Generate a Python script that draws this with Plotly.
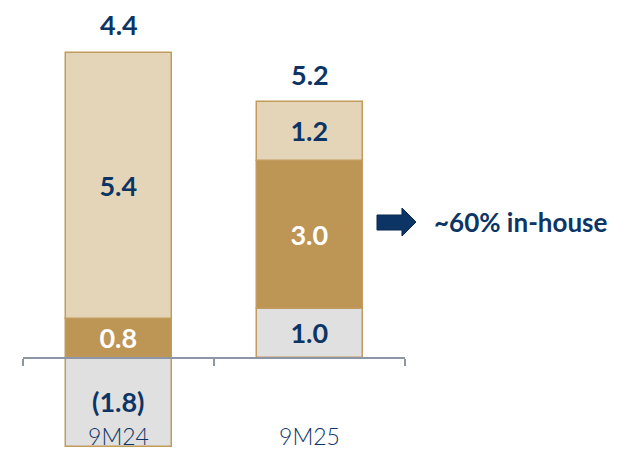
import plotly.graph_objects as go

categories = ["9M24", "9M25"]
base_part = [-1.8, 1.0]
mid_part = [0.8, 3.0]
top_part = [5.4, 1.2]
callout = "~60% in-house"

NAVY = "#0c3566"
GOLD = "#bd9555"
BEIGE = "#e5d5b8"
GREY = "#e0e0e0"
EDGE = "#c29b5e"
AXIS = "#8e95a5"
FONT = "Lato"

# page body has an 8px margin, so the figure is drawn 8px smaller
W, H = 629, 442
y_min, y_max = -1.87, 7.114


def fmt(v):
    return "(%.1f)" % abs(v) if v < 0 else "%.1f" % v


def px(x, y):
    # screenshot pixel -> paper coords
    return (x - 23) / 382, 1 - (y - 8) / H


fig = go.Figure()
for vals, fill, txt_col in [(base_part, GREY, NAVY), (mid_part, GOLD, "white"), (top_part, BEIGE, NAVY)]:
    fig.add_trace(go.Bar(
        x=categories, y=vals, width=0.555,
        marker=dict(color=fill, line=dict(color=EDGE, width=1.5)),
        text=[fmt(v) for v in vals], textposition="inside", insidetextanchor="middle",
        textangle=0, constraintext="none",
        textfont=dict(family=FONT, size=27, color=txt_col, weight="bold"),
        hoverinfo="skip",
    ))

totals = [a + b + c for a, b, c in zip(base_part, mid_part, top_part)]
tops = [max(a, 0) + b + c for a, b, c in zip(base_part, mid_part, top_part)]
for cat, tot, top in zip(categories, totals, tops):
    fig.add_annotation(x=cat, y=top, text="%.1f" % tot, showarrow=False,
                       yanchor="middle", yshift=28,
                       font=dict(family=FONT, size=27, color=NAVY, weight="bold"))

# block arrow + callout text
pts = [(377, 215), (402, 215), (402, 208), (416, 222), (402, 236), (402, 230), (377, 230)]
path = "M " + " L ".join("%.4f,%.4f" % px(x, y) for x, y in pts) + " Z"
fig.add_shape(type="path", path=path, xref="paper", yref="paper",
              fillcolor=NAVY, line=dict(color="#0a2a52", width=1))
tx, ty = px(432, 222)
fig.add_annotation(x=tx, y=ty, xref="paper", yref="paper", text=callout, showarrow=False,
                   xanchor="left", yanchor="middle",
                   font=dict(family=FONT, size=26, color=NAVY, weight="bold"))

fig.update_layout(
    width=W, height=H, barmode="relative", bargap=0,
    margin=dict(l=15, r=232, t=0, b=0, autoexpand=False),
    paper_bgcolor="white", plot_bgcolor="white", showlegend=False,
    xaxis=dict(range=[-0.5, 1.5], anchor="free", position=(0 - y_min) / (y_max - y_min),
               showline=True, linecolor=AXIS, linewidth=2, ticks="outside",
               tickson="boundaries", ticklen=7, tickcolor=AXIS, tickwidth=2,
               ticklabelstandoff=58, showgrid=False, automargin=False,
               tickfont=dict(family=FONT, size=23, color=NAVY, weight=300)),
    yaxis=dict(range=[y_min, y_max], visible=False, showgrid=False, zeroline=False,
               automargin=False),
)

fig.write_html("out.html")
